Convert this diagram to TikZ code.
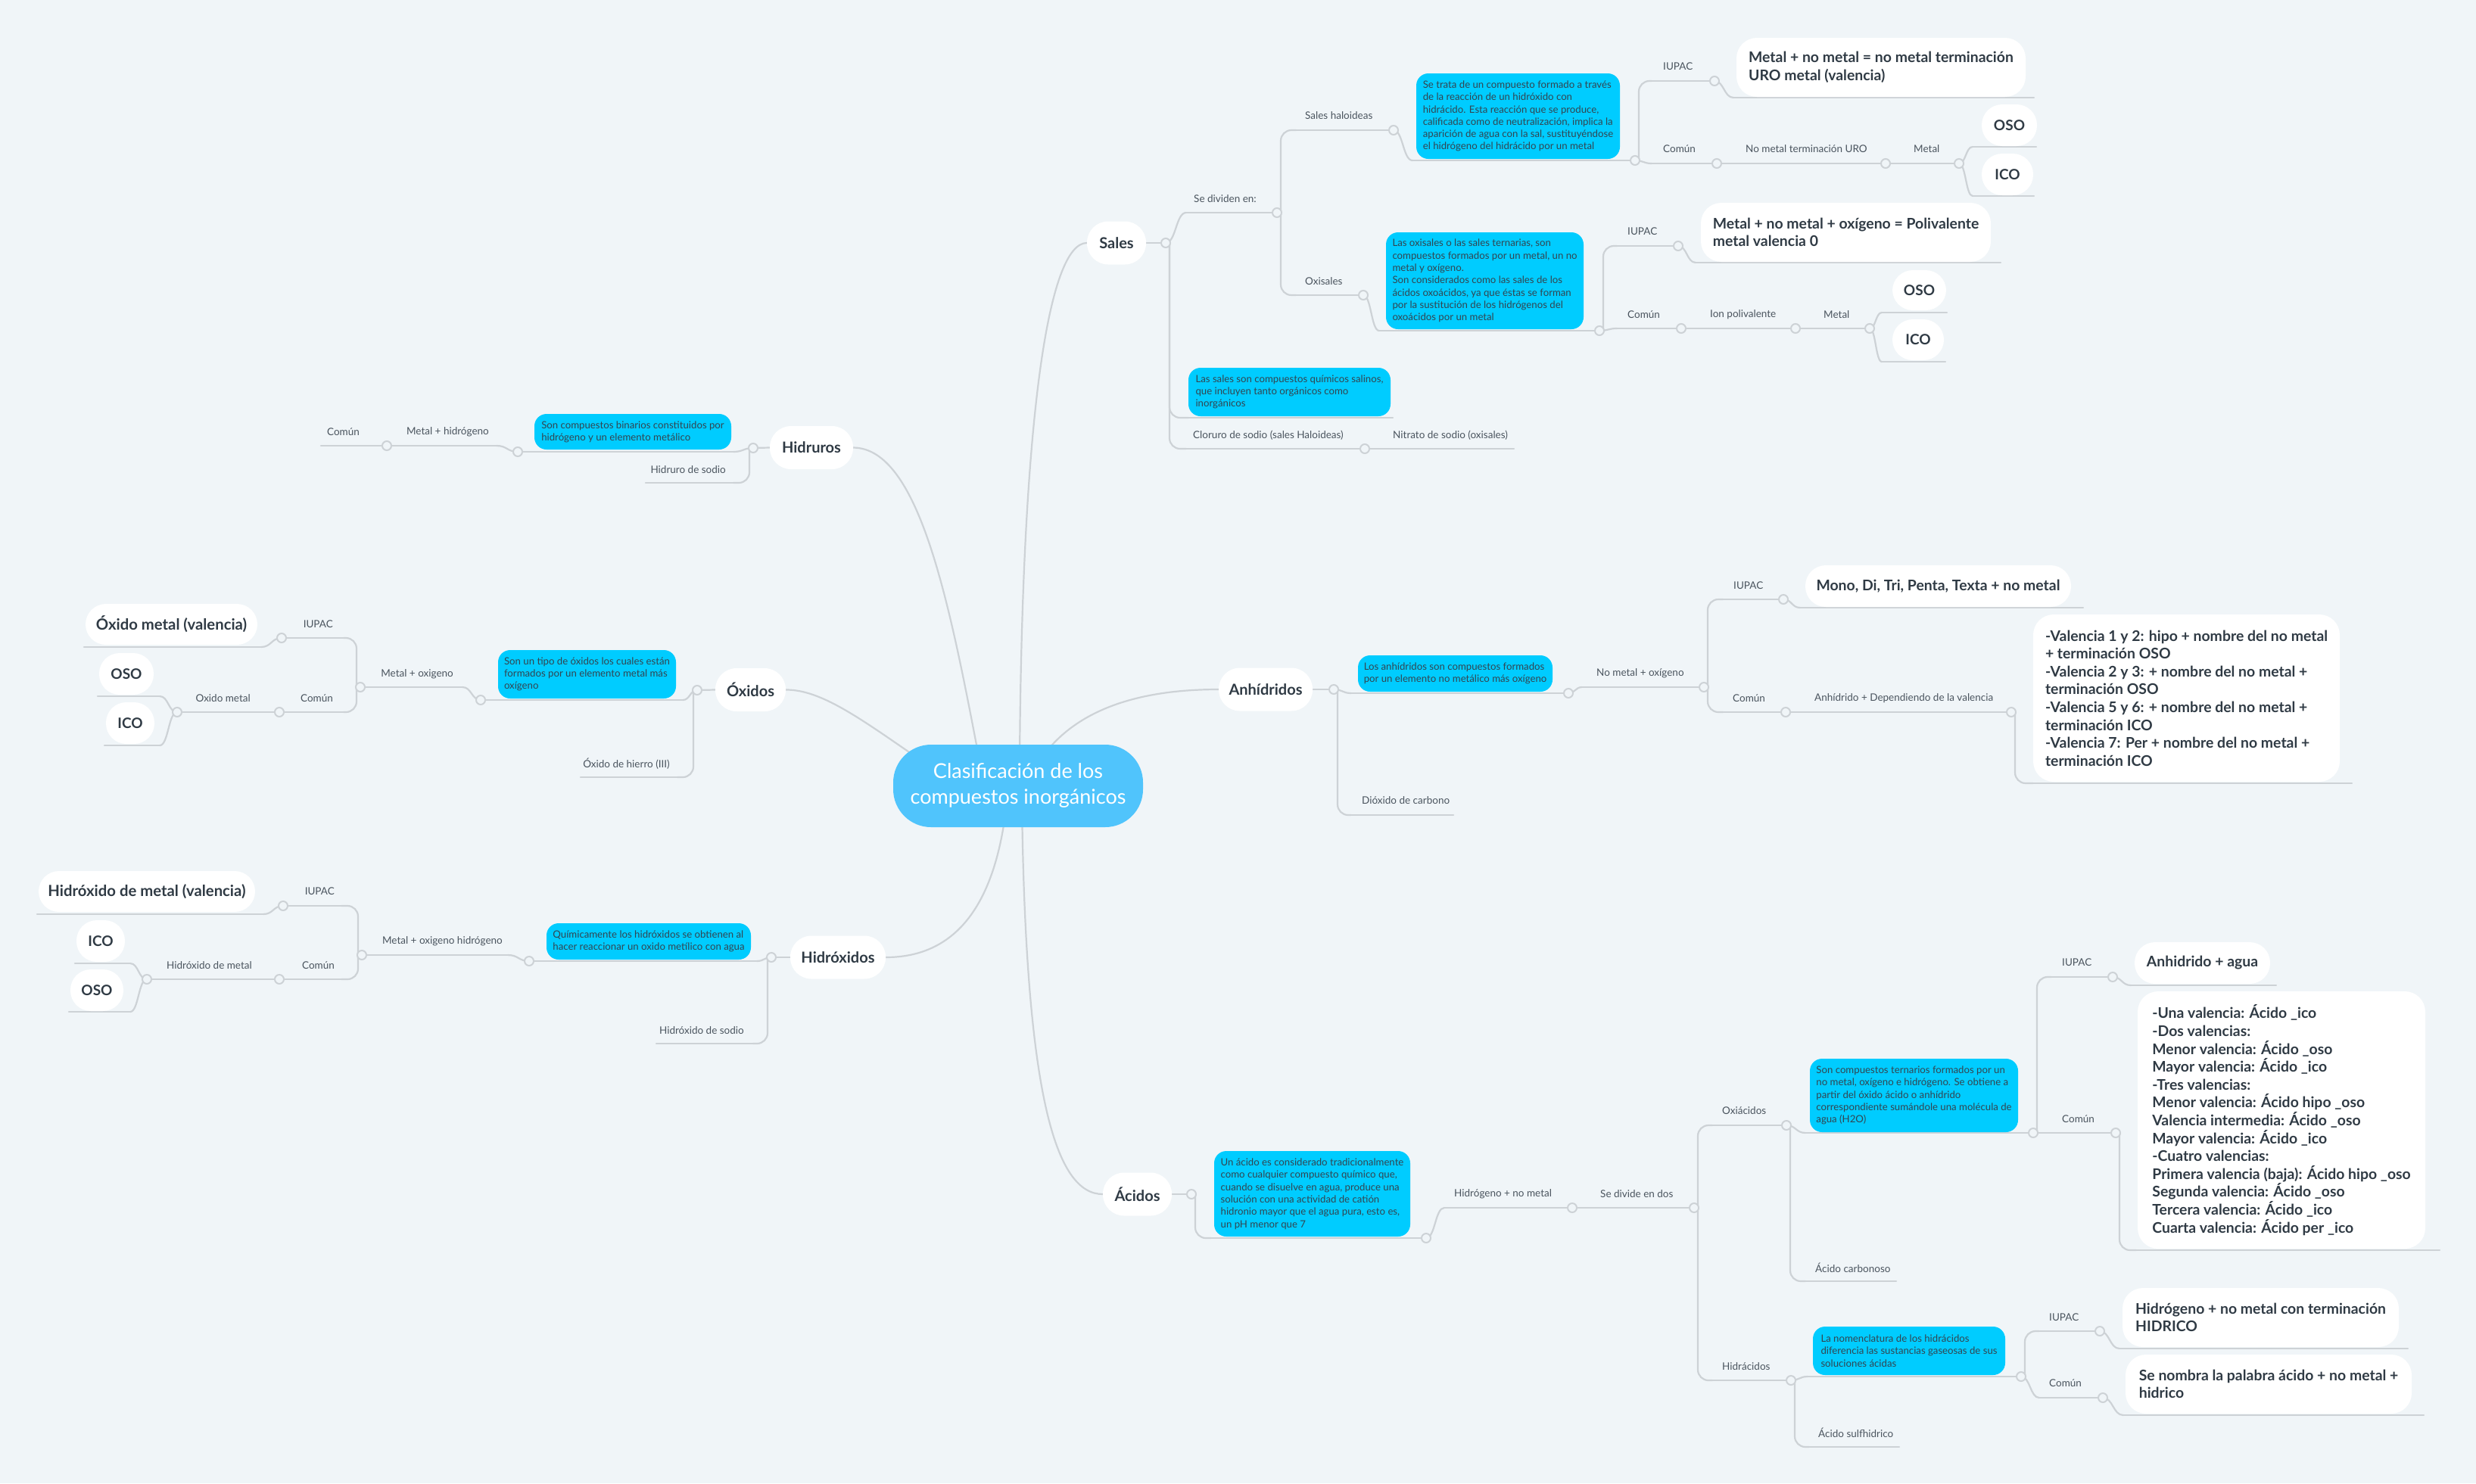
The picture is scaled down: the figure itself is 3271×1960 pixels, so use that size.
\documentclass[tikz,border=0pt]{standalone}
\usepackage{fontspec}
\setmainfont{Lato}
\usetikzlibrary{calc}
\pgfdeclarelayer{bg}
\pgfdeclarelayer{lines}
\pgfsetlayers{bg,lines,main}
\definecolor{canvas}{HTML}{F0F5F8}
\definecolor{lin}{HTML}{CDD2D6}
\definecolor{cyanbox}{HTML}{00CCFF}
\definecolor{centerbox}{HTML}{50C4FC}
\definecolor{txt}{HTML}{2F3A44}
\definecolor{lbltxt}{HTML}{4A545E}
\definecolor{btxt}{HTML}{33444F}
\tikzset{
  conn/.style={draw=lin, line width=2.2pt, line cap=round},
  dot/.style={circle, draw=lin, line width=2pt, fill=canvas, minimum size=12pt, inner sep=0pt},
  lab/.style={font=\fontsize{13.5}{15}\selectfont, text=lbltxt, inner sep=0pt},
  bluebox/.style={fill=cyanbox, rounded corners=16pt, font=\fontsize{13.2}{16.3}\selectfont, text=btxt, align=left, inner sep=0pt},
  wbox/.style={fill=white, rounded corners=27pt, font=\bfseries\fontsize{19.4}{23.6}\selectfont, text=txt, align=left, inner sep=0pt},
  wboxl/.style={wbox, font=\bfseries\fontsize{20.3}{23.6}\selectfont},
  smallw/.style={fill=white, rounded corners=27pt, font=\bfseries\fontsize{19}{23}\selectfont, text=txt, inner sep=0pt},
  topic/.style={fill=white, rounded corners=28pt, font=\bfseries\fontsize{20}{24}\selectfont, text=txt, inner sep=0pt, minimum height=57pt},
  root/.style={fill=centerbox, rounded corners=50pt, font=\fontsize{27}{34}\selectfont, text=white, align=center, inner sep=0pt},
}
\newcommand\Hline[4]{\coordinate (#1-a) at (#2,#4);\coordinate (#1-b) at (#3,#4);%
  \begin{pgfonlayer}{lines}\draw[conn] (#1-a) -- (#1-b);\end{pgfonlayer}}
\newcommand\Hlined[4]{\Hline{#1}{#2}{#3}{#4}\node[dot] (#1-d) at (#1-b) {};}
\newcommand\Sconn[2]{\begin{pgfonlayer}{lines}\path ($(#1.center)!0.5!(#2.center)$) coordinate (scm);%
  \draw[conn] (#1.center) .. controls (scm |- #1.center) and (scm |- #2.center) .. (#2.center);\end{pgfonlayer}}
\newcommand\Econn[3]{\begin{pgfonlayer}{lines}\draw[conn, rounded corners=14pt] ($(#1.center)+(#3,0)$) |- (#2.center);\end{pgfonlayer}}
\begin{document}
\begin{tikzpicture}[x=1pt,y=-1pt]
\useasboundingbox (0,0) rectangle (3271,1960);
\begin{pgfonlayer}{bg}\fill[canvas] (0,0) rectangle (3271,1960);\end{pgfonlayer}

% ---------- root and main topics ----------
\node[root, minimum width=330pt, minimum height=109pt] (root) at (1345,1038.5) {Clasificación de los\\compuestos inorgánicos};
\node[topic, minimum width=78pt] (sales) at (1475,321) {Sales};
\node[topic, minimum width=110pt] (hidr) at (1072,591.5) {Hidruros};
\node[topic, minimum width=93pt] (oxi) at (991.5,911.5) {Óxidos};
\node[topic, minimum width=126pt] (hx) at (1107,1265) {Hidróxidos};
\node[topic, minimum width=124pt] (anh) at (1672,911) {Anhídridos};
\node[topic, minimum width=91pt] (aci) at (1502.5,1578) {Ácidos};

\begin{pgfonlayer}{lines}
\draw[conn] (root.center) ++(2,-28) .. controls (1350,550) and (1385,321) .. (sales.west);
\draw[conn] (root.center) ++(-50,-28) .. controls (1255,800) and (1215,592) .. (hidr.east);
\draw[conn] (root.center) ++(-105,-18) .. controls (1150,960) and (1090,911) .. (oxi.east);
\draw[conn] (root.center) ++(-15,22) .. controls (1315,1200) and (1260,1265) .. (hx.east);
\draw[conn] (root.center) ++(25,-28) .. controls (1420,930) and (1520,911) .. (anh.west);
\draw[conn] (root.center) ++(5,22) .. controls (1355,1450) and (1395,1578) .. (aci.west);
\end{pgfonlayer}

% ---------- SALES ----------
\node[dot] (sales-d) at (1540,321) {};
\begin{pgfonlayer}{lines}\draw[conn] (sales.east) -- (sales-d.center);\end{pgfonlayer}
\Hlined{sd}{1567}{1687}{281}
\node[lab, anchor=west] (sdt) at (1577,263) {Se dividen en:};
\Sconn{sales-d}{sd-a}
\Hline{bsd}{1570}{1840}{552}
\node[bluebox, minimum width=267pt, minimum height=64pt] (bsd) at (1703.5,518) {Las sales son compuestos químicos salinos,\\que incluyen tanto orgánicos como\\inorgánicos};
\Econn{sales-d}{bsd-a}{5}
\Hlined{clo}{1567}{1803}{593}
\node[lab, anchor=west] (clot) at (1576,575) {Cloruro de sodio (sales Haloideas)};
\Econn{sales-d}{clo-a}{5}
\Hline{nit}{1803}{2000}{593}
\node[lab, anchor=west] (nitt) at (1840,575) {Nitrato de sodio (oxisales)};

\Hlined{sh}{1712}{1841}{172}
\node[lab, anchor=west] (sht) at (1724,153) {Sales haloideas};
\Econn{sd-d}{sh-a}{5}
\Hlined{ox}{1712}{1801}{390}
\node[lab, anchor=west] (oxt) at (1724,372) {Oxisales};
\Econn{sd-d}{ox-a}{5}

\Hlined{bsh}{1866}{2160}{212}
\node[bluebox, minimum width=269pt, minimum height=113pt] (bsh) at (2005.5,153.5) {Se trata de un compuesto formado a través\\de la reacción de un hidróxido con\\hidrácido. Esta reacción que se produce,\\calificada como de neutralización, implica la\\aparición de agua con la sal, sustituyéndose\\el hidrógeno del hidrácido por un metal};
\Sconn{sh-d}{bsh-a}
\Hlined{boxs}{1822}{2113}{437}
\node[bluebox, minimum width=261pt, minimum height=128pt] (boxsn) at (1961.5,371) {Las oxisales o las sales ternarias, son\\compuestos formados por un metal, un no\\metal y oxígeno.\\Son considerados como las sales de los\\ácidos oxoácidos, ya que éstas se forman\\por la sustitución de los hidrógenos del\\oxoácidos por un metal};
\Sconn{ox-d}{boxs-a}

% haloideas children
\Hlined{hi}{2182}{2265}{107}
\node[lab, anchor=west] (hit) at (2197,88) {IUPAC};
\Econn{bsh-d}{hi-a}{5}
\Hline{w1l}{2290}{2687}{129}
\node[wbox, minimum width=382pt, minimum height=78pt] (w1) at (2485,89) {Metal + no metal = no metal terminación\\URO metal (valencia)};
\Sconn{hi-d}{w1l-a}
\Hlined{hc}{2182}{2268}{216}
\node[lab, anchor=west] (hct) at (2197,197) {Común};
\Sconn{bsh-d}{hc-a}
\Hlined{hn}{2268}{2491}{216}
\node[lab, anchor=west] (hnt) at (2306,197) {No metal terminación URO};
\Hlined{hm}{2491}{2588}{216}
\node[lab, anchor=west] (hmt) at (2528,197) {Metal};
\Hline{o1l}{2606}{2690}{194}
\node[smallw, minimum width=73pt, minimum height=55pt] (oso1) at (2654.5,165.5) {OSO};
\Sconn{hm-d}{o1l-a}
\Hline{i1l}{2606}{2687}{259}
\node[smallw, minimum width=68pt, minimum height=55pt] (ico1) at (2652,230.5) {ICO};
\Sconn{hm-d}{i1l-a}

% oxisales children
\Hlined{oi}{2136}{2217}{325}
\node[lab, anchor=west] (oit) at (2150,306) {IUPAC};
\Econn{boxs-d}{oi-a}{5}
\Hline{w2l}{2240}{2643}{347}
\node[wbox, minimum width=383pt, minimum height=78pt] (w2) at (2438.5,307) {Metal + no metal + oxígeno = Polivalente\\metal valencia 0};
\Sconn{oi-d}{w2l-a}
\Hlined{oc}{2136}{2221}{434}
\node[lab, anchor=west] (oct) at (2150,416) {Común};
\Sconn{boxs-d}{oc-a}
\Hlined{on}{2221}{2372}{434}
\node[lab, anchor=west] (ont) at (2259,416) {Ion polivalente};
\Hlined{om}{2372}{2470}{434}
\node[lab, anchor=west] (omt) at (2409,416) {Metal};
\Hline{o2l}{2486}{2572}{413}
\node[smallw, minimum width=71pt, minimum height=53pt] (oso2) at (2535.5,383.5) {OSO};
\Sconn{om-d}{o2l-a}
\Hline{i2l}{2486}{2570}{478}
\node[smallw, minimum width=68pt, minimum height=54pt] (ico2) at (2534,449) {ICO};
\Sconn{om-d}{i2l-a}

% ---------- HIDRUROS ----------
\node[dot] (hidr-d) at (995,592) {};
\begin{pgfonlayer}{lines}\draw[conn] (hidr.west) -- (hidr-d.center);\end{pgfonlayer}
\Hlined{bhr}{969}{684}{597}
\node[bluebox, minimum width=260pt, minimum height=47pt] (bhr) at (836,570.5) {Son compuestos binarios constituidos por\\hidrógeno y un elemento metálico};
\Sconn{hidr-d}{bhr-a}
\Hline{hs}{969}{853}{638}
\node[lab, anchor=east] (hst) at (959,621) {Hidruro de sodio};
\Econn{hidr-d}{hs-a}{-5}
\Hlined{mh}{656}{511}{589}
\node[lab, anchor=east] (mht) at (646,571) {Metal + hidrógeno};
\Sconn{bhr-d}{mh-a}
\Hline{hcm}{511}{424}{589}
\node[lab, anchor=east] (hcmt) at (475,571) {Común};

% ---------- ÓXIDOS ----------
\node[dot] (oxi-d) at (921,912) {};
\begin{pgfonlayer}{lines}\draw[conn] (oxi.west) -- (oxi-d.center);\end{pgfonlayer}
\Hlined{bod}{902}{635}{925}
\node[bluebox, minimum width=235pt, minimum height=64pt] (bod) at (775.5,891) {Son un tipo de óxidos los cuales están\\formados por un elemento metal más\\oxígeno};
\Sconn{oxi-d}{bod-a}
\Hline{ohi}{895}{767}{1027}
\node[lab, anchor=east] (ohit) at (885,1009) {Óxido de hierro (III)};
\Econn{oxi-d}{ohi-a}{-5}
\Hlined{mo}{611}{476}{908}
\node[lab, anchor=east] (mot) at (599,891) {Metal + oxigeno};
\Sconn{bod-d}{mo-a}
\Hlined{xi}{454}{372}{843}
\node[lab, anchor=east] (xit) at (440,825) {IUPAC};
\Econn{mo-d}{xi-a}{-5}
\Hline{wol}{345}{111}{855}
\node[wboxl, minimum width=227pt, minimum height=54pt] (wom) at (226.5,825) {Óxido metal (valencia)};
\Sconn{xi-d}{wol-a}
\Hlined{xc}{454}{369}{941}
\node[lab, anchor=east] (xct) at (440,923) {Común};
\Econn{mo-d}{xc-a}{-5}
\Hlined{xm}{369}{234}{941}
\node[lab, anchor=east] (xmt) at (331,923) {Oxido metal};
\Hline{o3l}{211}{129}{920}
\node[smallw, minimum width=72pt, minimum height=55pt] (oso3) at (167,890.5) {OSO};
\Sconn{xm-d}{o3l-a}
\Hline{i3l}{211}{138}{985}
\node[smallw, minimum width=64pt, minimum height=55pt] (ico3) at (172,955.5) {ICO};
\Sconn{xm-d}{i3l-a}

% ---------- HIDRÓXIDOS ----------
\node[dot] (hx-d) at (1019,1265) {};
\begin{pgfonlayer}{lines}\draw[conn] (hx.west) -- (hx-d.center);\end{pgfonlayer}
\Hlined{bhx}{1000}{699}{1270}
\node[bluebox, minimum width=270pt, minimum height=48pt] (bhx) at (857,1244) {Químicamente los hidróxidos se obtienen al\\hacer reaccionar un oxido metílico con agua};
\Sconn{hx-d}{bhx-a}
\Hline{hxs}{995}{867}{1379}
\node[lab, anchor=east] (hxst) at (983,1362) {Hidróxido de sodio};
\Econn{hx-d}{hxs-a}{-5}
\Hlined{moh}{671}{478}{1262}
\node[lab, anchor=east] (moht) at (664,1244) {Metal + oxigeno hidrógeno};
\Sconn{bhx-d}{moh-a}
\Hlined{yi}{451}{374}{1197}
\node[lab, anchor=east] (yit) at (442,1178) {IUPAC};
\Econn{moh-d}{yi-a}{-5}
\Hline{whl}{348}{49}{1208}
\node[wboxl, minimum width=286pt, minimum height=54pt] (whm) at (194,1178) {Hidróxido de metal (valencia)};
\Sconn{yi-d}{whl-a}
\Hlined{yc}{451}{369}{1294}
\node[lab, anchor=east] (yct) at (442,1276) {Común};
\Econn{moh-d}{yc-a}{-5}
\Hlined{ym}{369}{194}{1294}
\node[lab, anchor=east] (ymt) at (333,1276) {Hidróxido de metal};
\Hline{i4l}{172}{99}{1273}
\node[smallw, minimum width=64pt, minimum height=55pt] (ico4) at (133,1243.5) {ICO};
\Sconn{ym-d}{i4l-a}
\Hline{o4l}{172}{91}{1337}
\node[smallw, minimum width=70pt, minimum height=55pt] (oso4) at (128,1308.5) {OSO};
\Sconn{ym-d}{o4l-a}

% ---------- ANHÍDRIDOS ----------
\node[dot] (anh-d) at (1762,911) {};
\begin{pgfonlayer}{lines}\draw[conn] (anh.east) -- (anh-d.center);\end{pgfonlayer}
\Hlined{ban}{1785}{2072}{916}
\node[bluebox, minimum width=257pt, minimum height=48pt] (ban) at (1922.5,890) {Los anhídridos son compuestos formados\\por un elemento no metálico más oxígeno};
\Sconn{anh-d}{ban-a}
\Hline{dio}{1785}{1920}{1077}
\node[lab, anchor=west] (diot) at (1799,1058) {Dióxido de carbono};
\Econn{anh-d}{dio-a}{5}
\Hlined{nmo}{2090}{2251}{908}
\node[lab, anchor=west] (nmot) at (2109,890) {No metal + oxígeno};
\Sconn{ban-d}{nmo-a}
\Hlined{ai}{2276}{2356}{792}
\node[lab, anchor=west] (ait) at (2290,774) {IUPAC};
\Econn{nmo-d}{ai-a}{5}
\Hline{wml}{2378}{2752}{803}
\node[wbox, minimum width=351pt, minimum height=55pt] (wmono) at (2560.5,774.5) {Mono, Di, Tri, Penta, Texta + no metal};
\Sconn{ai-d}{wml-a}
\Hlined{ac}{2276}{2359}{941}
\node[lab, anchor=west] (act) at (2289,923) {Común};
\Econn{nmo-d}{ac-a}{5}
\Hlined{adv}{2359}{2657}{941}
\node[lab, anchor=west] (advt) at (2397,923) {Anhídrido + Dependiendo de la valencia};
\Hline{wvl}{2686}{3107}{1035}
\node[wbox, minimum width=405pt, minimum height=221pt] (wval) at (2888.5,922.5) {-Valencia 1 y 2: hipo + nombre del no metal\\+ terminación OSO\\-Valencia 2 y 3: + nombre del no metal +\\terminación OSO\\-Valencia 5 y 6: + nombre del no metal +\\terminación ICO\\-Valencia 7: Per + nombre del no metal +\\terminación ICO};
\Econn{adv-d}{wvl-a}{5}

% ---------- ÁCIDOS ----------
\node[dot] (aci-d) at (1574,1578) {};
\begin{pgfonlayer}{lines}\draw[conn] (aci.east) -- (aci-d.center);\end{pgfonlayer}
\Hlined{bac}{1600}{1884}{1636}
\node[bluebox, minimum width=259pt, minimum height=113pt] (bac) at (1733.5,1577.5) {Un ácido es considerado tradicionalmente\\como cualquier compuesto químico que,\\cuando se disuelve en agua, produce una\\solución con una actividad de catión\\hidronio mayor que el agua pura, esto es,\\un pH menor que 7};
\Econn{aci-d}{bac-a}{5}
\Hlined{hnm}{1908}{2077}{1596}
\node[lab, anchor=west] (hnmt) at (1921,1578) {Hidrógeno + no metal};
\Sconn{bac-d}{hnm-a}
\Hlined{sdd}{2077}{2238}{1596}
\node[lab, anchor=west] (sddt) at (2114,1578) {Se divide en dos};
\Hlined{oxa}{2262}{2360}{1487}
\node[lab, anchor=west] (oxat) at (2275,1468) {Oxiácidos};
\Econn{sdd-d}{oxa-a}{5}
\Hlined{boa}{2385}{2686}{1497}
\node[bluebox, minimum width=275pt, minimum height=97pt] (boan) at (2528.5,1447.5) {Son compuestos ternarios formados por un\\no metal, oxígeno e hidrógeno. Se obtiene a\\partir del óxido ácido o anhídrido\\correspondiente sumándole una molécula de\\agua (H2O)};
\Sconn{oxa-d}{boa-a}
\Hline{acb}{2385}{2505}{1693}
\node[lab, anchor=west] (acbt) at (2398,1675) {Ácido carbonoso};
\Econn{oxa-d}{acb-a}{5}
\Hlined{oai}{2710}{2791}{1291}
\node[lab, anchor=west] (oait) at (2724,1272) {IUPAC};
\Econn{boa-d}{oai-a}{5}
\Hline{wal}{2815}{3007}{1302}
\node[wbox, minimum width=179pt, minimum height=55pt] (waa) at (2909.5,1272.5) {Anhidrido + agua};
\Sconn{oai-d}{wal-a}
\Hlined{oac}{2686}{2795}{1497}
\node[lab, anchor=west] (oact) at (2724,1479) {Común};
\Hline{wvsl}{2822}{3223}{1652}
\node[wbox, minimum width=380pt, minimum height=340pt] (wvals) at (3014,1480) {-Una valencia: Ácido \_ico\\-Dos valencias:\\Menor valencia: Ácido \_oso\\Mayor valencia: Ácido \_ico\\-Tres valencias:\\Menor valencia: Ácido hipo \_oso\\Valencia intermedia: Ácido \_oso\\Mayor valencia: Ácido \_ico\\-Cuatro valencias:\\Primera valencia (baja): Ácido hipo \_oso\\Segunda valencia: Ácido \_oso\\Tercera valencia: Ácido \_ico\\Cuarta valencia: Ácido per \_ico};
\Econn{oac-d}{wvsl-a}{5}
\Hlined{hda}{2262}{2366}{1824}
\node[lab, anchor=west] (hdat) at (2275,1806) {Hidrácidos};
\Econn{sdd-d}{hda-a}{5}
\Hlined{bha}{2388}{2670}{1819}
\node[bluebox, minimum width=254pt, minimum height=64pt] (bhan) at (2522,1785) {La nomenclatura de los hidrácidos\\diferencia las sustancias gaseosas de sus\\soluciones ácidas};
\Sconn{hda-d}{bha-a}
\Hline{asf}{2390}{2509}{1912}
\node[lab, anchor=west] (asft) at (2402,1893) {Ácido sulfhidrico};
\Econn{hda-d}{asf-a}{5}
\Hlined{hai}{2694}{2774}{1759}
\node[lab, anchor=west] (hait) at (2707,1741) {IUPAC};
\Econn{bha-d}{hai-a}{5}
\Hline{whtl}{2800}{3181}{1782}
\node[wbox, minimum width=365pt, minimum height=78pt] (wht) at (2986.5,1741) {Hidrógeno + no metal con terminación\\HIDRICO};
\Sconn{hai-d}{whtl-a}
\Hlined{hac}{2694}{2778}{1847}
\node[lab, anchor=west] (hact) at (2707,1828) {Común};
\Sconn{bha-d}{hac-a}
\Hline{wsnl}{2805}{3202}{1870}
\node[wbox, minimum width=378pt, minimum height=78pt] (wsn) at (2997,1829) {Se nombra la palabra ácido + no metal +\\hidrico};
\Sconn{hac-d}{wsnl-a}
\end{tikzpicture}
\end{document}
